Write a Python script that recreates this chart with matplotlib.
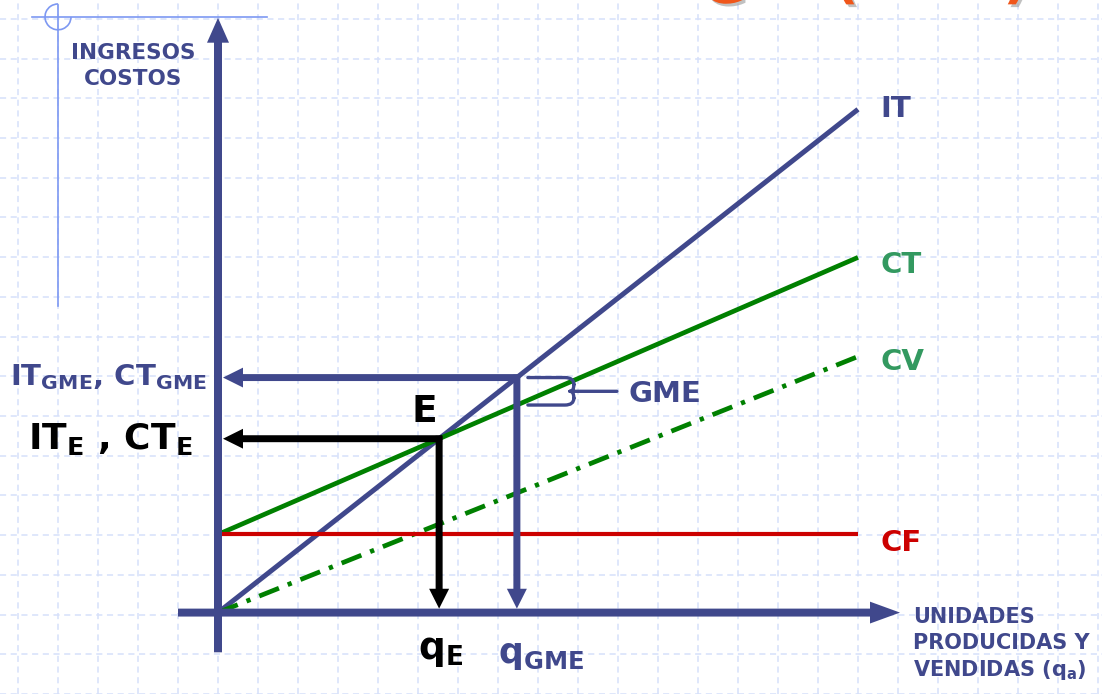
import numpy as np
import matplotlib.pyplot as plt
import matplotlib.patheffects as pe
from matplotlib.patches import Arc, PathPatch
from matplotlib.path import Path

plt.rcParams['mathtext.fontset'] = 'dejavusans'

# valores (unidades arbitrarias)
q = [0, 10]
it_vals = [0, 7.92]
ct_vals = [1.23, 5.59]
cv_vals = [0, 4.03]
cf_vals = [1.23, 1.23]
q_gme = 4.67

navy = '#40488c'
green = '#008000'
green_txt = '#339960'
red = '#cc0000'

PX = 64.0
X0, Y0 = 218, 617


def P(x, y):
    # pixel -> datos
    return (x - X0) / PX, (Y0 - y) / PX


# equilibrio: IT = CT
it_slope = (it_vals[1] - it_vals[0]) / (q[1] - q[0])
ct_slope = (ct_vals[1] - ct_vals[0]) / (q[1] - q[0])
q_e = (ct_vals[0] - it_vals[0]) / (it_slope - ct_slope)
y_e = np.interp(q_e, q, it_vals)
it_gme = np.interp(q_gme, q, it_vals)
ct_gme = np.interp(q_gme, q, ct_vals)

fig = plt.figure(figsize=(11.02, 6.94), dpi=100)
ax = fig.add_axes([0, 0, 1, 1])
ax.set_xlim(-X0 / PX, (1102 - X0) / PX)
ax.set_ylim(-(694 - Y0) / PX, Y0 / PX)
for s in ax.spines.values():
    s.set_visible(False)

# cuadricula de fondo
ax.set_xticks([(18 + 40 * k - X0) / PX for k in range(28)])
ax.set_yticks([(Y0 - 19 - 40 * k) / PX for k in range(18)])
ax.tick_params(length=0, labelbottom=False, labelleft=False)
ax.grid(True, color='#d6e0fa', ls=(0, (4, 3)), lw=1.1)
ax.set_axisbelow(True)

# adorno de la plantilla
deco = '#7d98f2'
ax.plot(*zip(P(32, 17), P(267, 17)), color=deco, lw=1.2)
ax.plot(*zip(P(58, 5), P(58, 308)), color=deco, lw=1.2)
ax.add_patch(Arc(P(58, 17), 26 / PX, 26 / PX, theta1=90, theta2=360, color=deco, lw=1.2))

# titulo cortado arriba
sh = [pe.SimplePatchShadow(offset=(2, -2), shadow_rgbFace='#999999', alpha=0.6), pe.Normal()]
for ch, xp, yp in [('G', 724, 3), ('(', 846, -3), (')', 1016, -3)]:
    ax.text(*P(xp, yp), ch, color='#f0561a', fontsize=40, fontweight='bold',
            ha='center', va='baseline', path_effects=sh)

# curvas
ax.plot(q, it_vals, color=navy, lw=3.6, solid_capstyle='butt', zorder=3)
ax.plot(q, ct_vals, color=green, lw=3.4, solid_capstyle='butt', zorder=3)
ax.plot(q, cv_vals, color=green, lw=3.4, dashes=(4.5, 2.0, 0.9, 2.0), zorder=3)
ax.plot(q, cf_vals, color=red, lw=3.0, solid_capstyle='butt', zorder=3)

# ejes
ax.arrow(0, -40 / PX, 0, 639 / PX, width=8 / PX, head_width=22 / PX,
         head_length=25 / PX, length_includes_head=True, color=navy, lw=0, zorder=4)
ax.arrow(-40 / PX, 0, 722 / PX, 0, width=8 / PX, head_width=22 / PX,
         head_length=30 / PX, length_includes_head=True, color=navy, lw=0, zorder=4)

# flechas GME
aw = dict(width=7 / PX, head_width=20 / PX, head_length=20 / PX,
          length_includes_head=True, lw=0, zorder=5)
ax.arrow(q_gme + 3 / PX, it_gme, -(q_gme + 3 / PX - 5 / PX), 0, color=navy, **aw)
ax.arrow(q_gme, it_gme + 3 / PX, 0, -(it_gme + 3 / PX - 4 / PX), color=navy, **aw)
# flechas E
ax.arrow(q_e + 3 / PX, y_e, -(q_e + 3 / PX - 5 / PX), 0, color='black', **aw)
ax.arrow(q_e, y_e + 3 / PX, 0, -(y_e + 3 / PX - 4 / PX), color='black', **aw)

# llave GME
x1, x2, x3, x4 = q_gme + 11 / PX, q_gme + 48 / PX, q_gme + 57 / PX, q_gme + 100 / PX
ym = (it_gme + ct_gme) / 2
r = 7 / PX
verts = [(x1, it_gme), (x2, it_gme), (x3, it_gme), (x3, it_gme - r),
         (x3, ym + r), (x3, ym), (x3 - 4 / PX, ym),
         (x1, ct_gme), (x2, ct_gme), (x3, ct_gme), (x3, ct_gme + r),
         (x3, ym - r), (x3, ym), (x3 - 4 / PX, ym),
         (x3, ym), (x4, ym)]
codes = [Path.MOVETO, Path.LINETO, Path.CURVE3, Path.CURVE3,
         Path.LINETO, Path.CURVE3, Path.CURVE3,
         Path.MOVETO, Path.LINETO, Path.CURVE3, Path.CURVE3,
         Path.LINETO, Path.CURVE3, Path.CURVE3,
         Path.MOVETO, Path.LINETO]
ax.add_patch(PathPatch(Path(verts, codes), fill=False, edgecolor=navy, lw=2.4,
                       capstyle='round', joinstyle='round', zorder=5))

# textos
bold = dict(fontweight='bold', va='baseline')
for txt, yb in [('INGRESOS', 59), ('COSTOS', 86)]:
    ax.text(*P(133, yb), txt, color=navy, fontsize=15.5, ha='center', **bold)
ax.text(*P(880, 118), 'IT', color=navy, fontsize=21, ha='left', **bold)
ax.text(*P(881, 275), 'CT', color=green_txt, fontsize=21, ha='left', **bold)
ax.text(*P(881, 373), 'CV', color=green_txt, fontsize=21, ha='left', **bold)
ax.text(*P(880, 555), 'CF', color=red, fontsize=21, ha='left', **bold)
ax.text(*P(424, 425), 'E', color='black', fontsize=27, ha='center', **bold)
ax.text(*P(628, 405), 'GME', color=navy, fontsize=21, ha='left', **bold)
ax.text(*P(207, 388), r'IT$_{\mathbf{GME}}$, CT$_{\mathbf{GME}}$', color=navy, fontsize=21,
        ha='right', **bold)
ax.text(*P(193, 452), r'IT$_{\mathbf{E}}$ , CT$_{\mathbf{E}}$', color='black', fontsize=26,
        ha='right', **bold)
ax.text(*P(441, 664), r'q$_{\mathbf{E}}$', color='black', fontsize=27, ha='center', **bold)
ax.text(*P(541, 668), r'q$_{\mathbf{GME}}$', color=navy, fontsize=25, ha='center', **bold)
for txt, yb in [('UNIDADES', 627), ('PRODUCIDAS Y', 654), (r'VENDIDAS (q$_{\mathbf{a}}$)', 681)]:
    ax.text(*P(913, yb), txt, color=navy, fontsize=15, ha='left', **bold)

fig.savefig('out.png', dpi=100)
